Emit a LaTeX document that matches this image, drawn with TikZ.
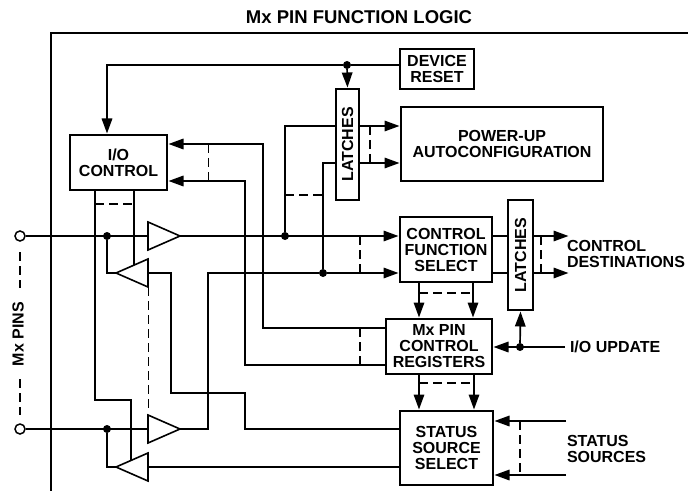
\documentclass[tikz,border=0pt]{standalone}
\usepackage{fontspec}
\setmainfont{Liberation Sans}
\usetikzlibrary{arrows.meta,shapes.geometric}
\tikzset{
  lbl/.style={font=\fontsize{16}{16}\selectfont\bfseries,align=center,inner sep=0pt,outer sep=0pt},
  lblleft/.style={lbl,align=left,anchor=west},
  box/.style={lbl,draw,line width=1.7pt,fill=white},
  wire/.style={line width=1.5pt},
  thick wire/.style={line width=1.9pt},
  arr/.style={line width=1.7pt,-{Triangle[length=15pt,width=10.5pt]},shorten >=1.5pt},
  bus/.style={line width=1.2pt,dash pattern=on 9pt off 5pt},
  junction/.style={circle,fill=black,minimum size=8pt,inner sep=0pt},
  pin/.style={circle,draw,line width=1.5pt,fill=white,minimum size=10pt,inner sep=0pt},
  bufr/.style={isosceles triangle,isosceles triangle stretches,draw,line width=1.6pt,fill=white,
     minimum width=28pt,minimum height=32pt,inner sep=0pt,outer sep=0pt,anchor=lower side},
  bufl/.style={bufr,shape border rotate=180}
}
\begin{document}
\begin{tikzpicture}[x=1pt,y=-1pt]
\useasboundingbox (0,0) rectangle (688,492);
% frame
\coordinate (fa) at (688,33); \coordinate (fb) at (51,33); \coordinate (fc) at (51,491);
\draw[line width=1.8pt] (fa) -- (fb) -- (fc);
\node[lbl,font=\fontsize{18.5}{18}\selectfont\bfseries] (title) at (359,17.5) {Mx PIN FUNCTION LOGIC};
% boxes
\node[box,minimum width=97pt,minimum height=55pt] (io) at (118.5,162.5) {I/O\\CONTROL};
\node[box,minimum width=74pt,minimum height=40pt] (reset) at (437,69) {DEVICE\\RESET};
\node[box,minimum width=202pt,minimum height=74pt] (power) at (502,144) {POWER-UP\\AUTOCONFIGURATION};
\node[box,rotate=90,minimum width=111pt,minimum height=23pt] (latA) at (347.5,144.5) {LATCHES};
\node[box,minimum width=92pt,minimum height=65pt] (cfs) at (446,249.5) {CONTROL\\FUNCTION\\SELECT};
\node[box,rotate=90,minimum width=110pt,minimum height=25pt] (latB) at (520.5,255) {LATCHES};
\node[box,minimum width=106pt,minimum height=55pt] (reg) at (439,346.5) {Mx PIN\\CONTROL\\REGISTERS};
\node[box,minimum width=93pt,minimum height=74pt] (stat) at (446.5,448) {STATUS\\SOURCE\\SELECT};
% pins, junctions
\node[pin] (p1) at (20,236) {};
\node[pin] (p2) at (20,429) {};
\node[junction] (j1) at (107,236) {};
\node[junction] (j2) at (107,429) {};
\node[junction] (j3) at (285,236) {};
\node[junction] (j4) at (323,273) {};
\node[junction] (j5) at (347,65) {};
\node[junction] (j6) at (520,347) {};
% free ends and bends
\coordinate (t1) at (134,265);
\coordinate (t2) at (131,460);
\coordinate (b1in) at (148,236); \coordinate (b3in) at (148,429);
\coordinate (b2in) at (148,273); \coordinate (b4in) at (148,467);
\coordinate (b1out) at (180,236); \coordinate (b3out) at (180,429);
\coordinate (b2out) at (116,273); \coordinate (b4out) at (116,467);
\coordinate (ctl) at (570,236); \coordinate (cbl) at (570,273);
\coordinate (upd) at (565,347);
\coordinate (ss1) at (566,421); \coordinate (ss2) at (566,475);
% wires
\draw[wire] (p1) -- (b1in);
\draw[wire] (p2) -- (b3in);
\draw[wire] (j1) -- (107,273) -- (b2out);
\draw[wire] (j2) -- (107,467) -- (b4out);
\draw[wire] (95,190) -- (95,400) -- (131,400) -- (t2);
\draw[wire] (134,190) -- (t1);
\draw[wire] (b2in) -- (171,273) -- (171,393) -- (245,393) -- (245,429) -- (stat.west |- 0,429);
\draw[thick wire] (b4in) -- (stat.west |- 0,467);
\draw[thick wire] (b3out) -- (208,429) -- (208,273) -- (j4);
\draw[wire] (j3) -- (285,126) -- (latA.north |- 0,126);
\draw[wire] (j4) -- (323,163) -- (latA.north |- 0,163);
\draw[thick wire] (reset.west |- j5) -- (j5);
% arrows
\draw[arr] (j5) -- (107,65) -- (107,135);
\draw[arr] (j5) -- (latA.east);
\draw[arr] (latA.south |- 0,126) -- (power.west |- 0,126);
\draw[arr] (latA.south |- 0,163) -- (power.west |- 0,163);
\draw[arr] (b1out) -- (cfs.west |- b1out);
\draw[arr] (j4) -- (cfs.west |- j4);
\draw[arr] (reg.west |- 0,328) -- (263,328) -- (263,144) -- (io.east |- 0,144);
\draw[arr] (reg.west |- 0,365) -- (245,365) -- (245,181) -- (io.east |- 0,181);
\draw[arr] (cfs.south -| 419,0) -- (reg.north -| 419,0);
\draw[arr] (cfs.south -| 473,0) -- (reg.north -| 473,0);
\draw[arr] (reg.south -| 419,0) -- (stat.north -| 419,0);
\draw[arr] (reg.south -| 474,0) -- (stat.north -| 474,0);
\draw[wire] (cfs.east |- 0,236) -- (latB.north |- 0,236);
\draw[wire] (cfs.east |- 0,273) -- (latB.north |- 0,273);
\draw[arr] (latB.south |- 0,236) -- (ctl);
\draw[arr] (latB.south |- 0,273) -- (cbl);
\draw[arr] (upd) -- (reg.east |- upd);
\draw[arr] (j6) -- (latB.west);
\draw[arr] (ss1) -- (stat.east |- ss1);
\draw[arr] (ss2) -- (stat.east |- ss2);
% bus dashes
\draw[bus] (95,204) -- (134,204);
\draw[bus] (148.5,287) -- (148.5,408);
\draw[bus] (208.5,144) -- (208.5,181);
\draw[bus] (285,195) -- (323,195);
\draw[bus] (370,126) -- (370,163);
\draw[bus] (360,236) -- (360,273);
\draw[bus] (360,328) -- (360,365);
\draw[bus] (419,293) -- (473,293);
\draw[bus] (419,383) -- (474,383);
\draw[bus] (541,236) -- (541,273);
\draw[bus] (520,421) -- (520,475);
\draw[bus] (p1 |- 0,252) -- (p1 |- 0,288);
\draw[bus] (p1 |- 0,379) -- (p1 |- 0,415);
% buffers
\node[bufr] (b1) at (b1in) {};
\node[bufr] (b3) at (b3in) {};
\node[bufl] (b2) at (b2in) {};
\node[bufl] (b4) at (b4in) {};
% labels
\node[lbl,rotate=90] (pins) at (18,334) {Mx PINS};
\node[lblleft] (dest) at (567,253.5) {CONTROL\\DESTINATIONS};
\node[lblleft] (updl) at (570,347) {I/O UPDATE};
\node[lblleft] (srcs) at (567,448.5) {STATUS\\SOURCES};
\end{tikzpicture}
\end{document}
